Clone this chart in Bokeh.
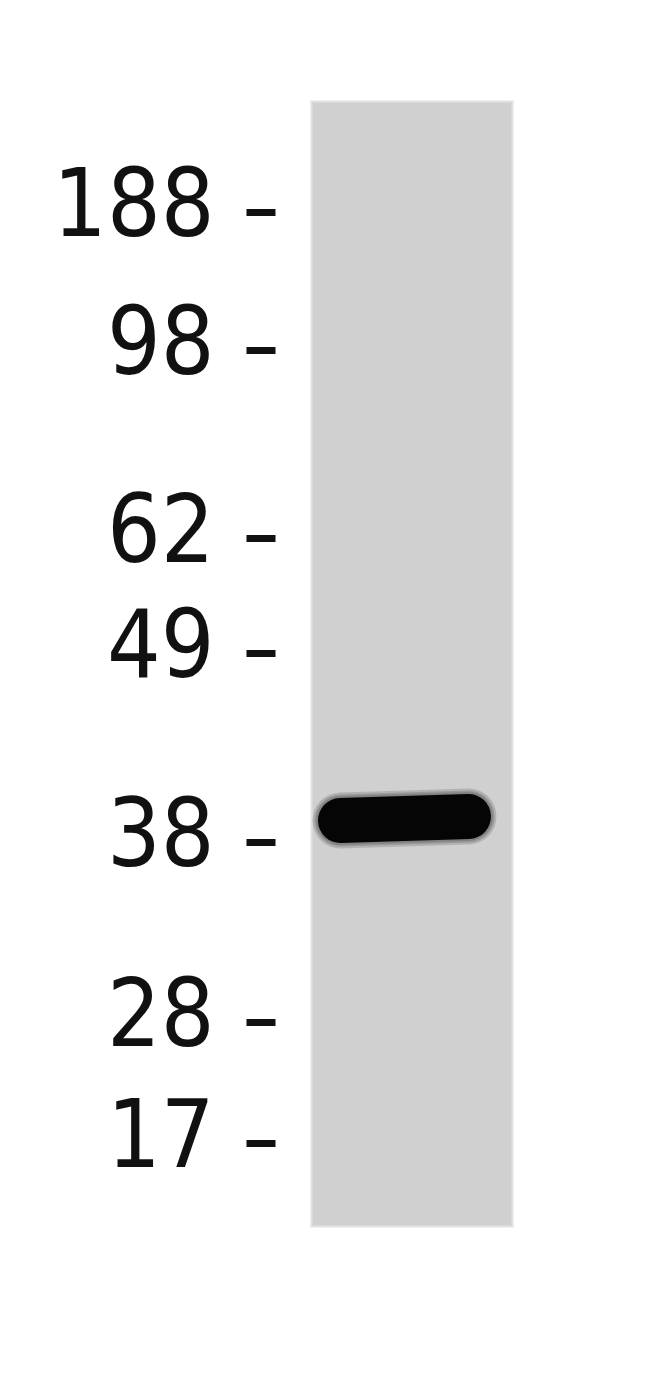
from bokeh.plotting import figure
from bokeh.models import Range1d
from bokeh.core.properties import value
from bokeh.embed import file_html
from bokeh.resources import INLINE

# molecular weight ladder (kDa) and where each marker sits on the blot (px from top)
markers = ["188", "98", "62", "49", "38", "28", "17"]
marker_y = [212, 350, 538, 653, 842, 1022, 1143]

# the single lane: left/right edges and top/bottom of the gel
lane_left = [312]
lane_right = [511]
lane_top = [102]
lane_bottom = [1225]

# detected band (~38 kDa)
band_x0 = [340]
band_x1 = [468]
band_y0 = [820]
band_y1 = [816]

p = figure(width=634, height=1362, x_range=Range1d(0, 634), y_range=Range1d(1362, 0),
           output_backend="svg", toolbar_location=None, min_border=0)
p.axis.visible = False
p.grid.visible = False
p.outline_line_color = None
p.background_fill_color = "white"
p.border_fill_color = "white"

# lane, with a soft edge
p.quad(left=[l - 2 for l in lane_left], right=[r + 2 for r in lane_right],
       top=[t - 2 for t in lane_top], bottom=[b + 2 for b in lane_bottom],
       fill_color="#e2e2e2", line_color=None)
p.quad(left=lane_left, right=lane_right, top=lane_top, bottom=lane_bottom,
       fill_color="#d0d0d0", line_color=None)

# band: a few faint layers for the blur, then the solid core
for w in [56, 52, 49]:
    p.segment(x0=band_x0, y0=band_y0, x1=band_x1, y1=band_y1,
              line_color="black", line_alpha=0.14, line_width=w, line_cap="round")
p.segment(x0=band_x0, y0=band_y0, x1=band_x1, y1=band_y1,
          line_color="#050505", line_width=45, line_cap="round")

# ladder ticks and labels
p.segment(x0=[246] * len(markers), y0=marker_y, x1=[275] * len(markers), y1=marker_y,
          line_color="#111111", line_width=7)
p.text(x=[214] * len(markers), y=marker_y, text=markers, y_offset=-11,
       text_align="right", text_baseline="middle",
       text_font=value("Liberation Sans Narrow, DejaVu Sans Condensed, Liberation Sans, sans-serif"),
       text_font_size="94px", text_color="#111111")

open("out.html", "w").write(file_html(p, INLINE))
